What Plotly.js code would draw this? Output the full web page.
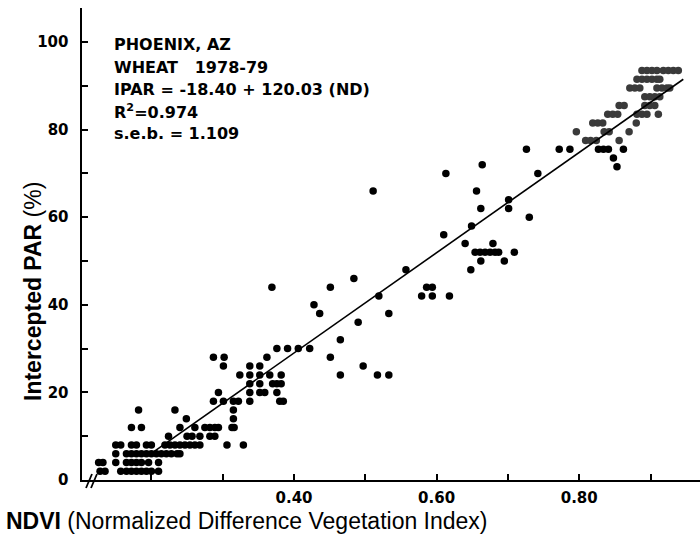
<!DOCTYPE html>
<html><head><meta charset="utf-8">
<script src="https://cdn.plot.ly/plotly-3.0.1.min.js"></script>
<style>html,body{margin:0;padding:0;background:#fff}#chart{width:700px;height:535px}</style>
</head><body><div id="chart"></div>
<script>
// ---- data ----
// low cluster (IPAR 2..30)
const lowNDVI = [
  0.128,0.135,0.157,0.165,0.172,0.179,0.186,0.193,0.200,0.210,
  0.126,0.132,0.150,0.165,0.172,0.179,0.186,0.196,0.210,
  0.150,0.165,0.172,0.179,0.186,0.193,0.200,0.207,0.214,0.221,0.228,0.236,0.240,
  0.150,0.157,0.172,0.179,0.193,0.200,0.219,0.226,0.233,0.240,0.247,0.254,0.261,0.268,0.306,0.329,
  0.224,0.250,0.257,0.268,0.282,0.289,
  0.172,0.186,0.240,0.261,0.275,0.282,0.289,0.294,0.313,0.316,
  0.249,0.315,
  0.182,0.233,0.315,
  0.287,0.301,0.315,0.322,0.338,0.380,0.385,
  0.294,0.338,0.352,0.359,0.376,
  0.338,0.352,0.370,0.376,0.382,
  0.324,0.338,0.352,0.366,0.382,
  0.301,0.338,0.352,
  0.287,0.302,0.362,
  0.376,0.391,0.406,0.422
];
const lowIPAR = [
  2,2,2,2,2,2,2,2,2,2,
  4,4,4,4,4,4,4,4,4,
  6,6,6,6,6,6,6,6,6,6,6,6,6,
  8,8,8,8,8,8,8,8,8,8,8,8,8,8,8,8,
  10,10,10,10,10,10,
  12,12,12,12,12,12,12,12,12,12,
  14,14,
  16,16,16,
  18,18,18,18,18,18,18,
  20,20,20,20,20,
  22,22,22,22,22,
  24,24,24,24,24,
  26,26,26,
  28,28,28,
  30,30,30,30
];
// middle cluster
const midNDVI = [0.465,0.517,0.533, 0.497, 0.451, 0.465, 0.490, 0.436,0.533, 0.428,
  0.519,0.579,0.594,0.618, 0.369,0.451,0.586,0.594, 0.484, 0.557,0.648, 0.662,0.695,
  0.654,0.661,0.668,0.675,0.682,0.687,0.709, 0.640,0.679, 0.610, 0.649, 0.730,
  0.662,0.701, 0.701, 0.656,0.511, 0.613,0.742, 0.664];
const midIPAR = [24,24,24, 26, 28, 32, 36, 38,38, 40,
  42,42,42,42, 44,44,44,44, 46, 48,48, 50,50,
  52,52,52,52,52,52,52, 54,54, 56, 58, 60,
  62,62, 64, 66,66, 70,70, 72];
// upper cluster (black)
const highNDVI = [0.726,0.772,0.787,0.827,0.834,0.841,0.862, 0.848, 0.853];
const highIPAR = [75.5,75.5,75.5,75.5,75.5,75.5,75.5, 73.5, 71.5];
// top cluster (greyer in the scan)
const topNDVI = [0.809,0.816,0.824,0.856,
  0.796,0.835,0.842,0.870,
  0.819,0.826,0.833,0.880,
  0.840,0.847,0.854,0.881,0.888,0.895,0.911,
  0.856,0.863,0.892,0.899,0.906,
  0.892,0.899,0.906,0.913,
  0.871,0.878,0.885,0.909,0.916,0.923,0.927,
  0.881,0.888,0.895,0.902,0.909,0.913,
  0.888,0.895,0.902,0.909,0.918,0.925,0.932,0.939];
const topIPAR = [77.5,77.5,77.5,77.5,
  79.5,79.5,79.5,79.5,
  81.5,81.5,81.5,81.5,
  83.5,83.5,83.5,83.5,83.5,83.5,83.5,
  85.5,85.5,85.5,85.5,85.5,
  87.5,87.5,87.5,87.5,
  89.5,89.5,89.5,89.5,89.5,89.5,89.5,
  91.5,91.5,91.5,91.5,91.5,91.5,
  93.5,93.5,93.5,93.5,93.5,93.5,93.5,93.5];
// regression line end points as drawn
const lineNDVI = [0.200, 0.946];
const lineIPAR = [6.1, 91.5];
// ticks
const xTickVals = [0.4,0.6,0.8];
const xTickText = ['0.40','0.60','0.80'];
const yTickVals = [0,20,40,60,80,100];
const yTickText = ['0','20','40','60','80','100'];
const noteLines = ['PHOENIX, AZ','WHEAT   1978-79','IPAR = -18.40 + 120.03 (ND)','R<sup>2</sup>=0.974','s.e.b. = 1.109'];
const notePix = [44, 67, 89, 112, 133];

const W = 700, H = 535, L = 82, R = 0, T = 8, B = 55;
const plotH = H - T - B, plotW = W - L - R;

const blackX = lowNDVI.concat(midNDVI, highNDVI);
const blackY = lowIPAR.concat(midIPAR, highIPAR);

const traces = [
  {x: blackX, y: blackY, type:'scatter', mode:'markers', marker:{size:7.5, color:'#000'}, hoverinfo:'skip'},
  {x: topNDVI, y: topIPAR, type:'scatter', mode:'markers', marker:{size:7.5, color:'#3a3a3a'}, hoverinfo:'skip'},
  {x: lineNDVI, y: lineIPAR, type:'scatter', mode:'lines', line:{color:'#000', width:1.6}, hoverinfo:'skip'}
];

const noteFont = {family:'DejaVu Sans', size:16, weight:'bold', color:'#000'};
const annotations = noteLines.map((t,i)=>({
  text:t, xref:'paper', yref:'paper', x:(112-L)/plotW, y:(H-B-notePix[i])/plotH,
  xanchor:'left', yanchor:'middle', showarrow:false, font:noteFont
}));
annotations.push({
  text:'<b>NDVI</b> (Normalized Difference Vegetation Index)', xref:'paper', yref:'paper',
  x:(5-L)/plotW, y:(H-B-520.5)/plotH, xanchor:'left', yanchor:'middle', showarrow:false, borderpad:0,
  font:{family:'Liberation Sans, Arial', size:23, color:'#000'}
});
annotations.push({
  text:'<b>Intercepted PAR</b> (%)', xref:'paper', yref:'paper', textangle:-90,
  x:(33-L)/plotW, y:(H-B-292)/plotH, xanchor:'center', yanchor:'middle', showarrow:false,
  font:{family:'Liberation Sans, Arial', size:23, color:'#000'}
});

const shapes = [
  {type:'line', xref:'paper', yref:'paper', x0:(86-L)/plotW, y0:(H-B-488)/plotH, x1:(92-L)/plotW, y1:(H-B-474)/plotH, line:{color:'#000', width:1.8}},
  {type:'line', xref:'paper', yref:'paper', x0:(91-L)/plotW, y0:(H-B-488)/plotH, x1:(97-L)/plotW, y1:(H-B-474)/plotH, line:{color:'#000', width:1.8}}
];

const tickFont = {family:'DejaVu Sans', size:15, weight:'bold', color:'#000'};
const layout = {
  width:W, height:H, margin:{l:L, r:R, t:T, b:B, pad:0},
  paper_bgcolor:'#fff', plot_bgcolor:'#fff', showlegend:false,
  xaxis:{range:[0.4-(294-L)/713, 0.4+(W-294)/713], tickvals:xTickVals, ticktext:xTickText,
    ticks:'inside', ticklen:6, tickwidth:2, tickcolor:'#000', showline:true, linewidth:2, linecolor:'#000',
    minor:{tick0:0, dtick:0.1, ticks:'inside', ticklen:6, tickwidth:2, tickcolor:'#000', showgrid:false},
    showgrid:false, zeroline:false, tickfont:tickFont, ticklabelstandoff:3},
  yaxis:{range:[0, (H-B-T)/4.38], tickvals:yTickVals, ticktext:yTickText,
    ticks:'inside', ticklen:6, tickwidth:2, tickcolor:'#000', showline:true, linewidth:2.5, linecolor:'#000',
    minor:{tick0:0, dtick:10, ticks:'inside', ticklen:6, tickwidth:2, tickcolor:'#000', showgrid:false},
    showgrid:false, zeroline:false, tickfont:tickFont, ticklabelstandoff:8},
  annotations:annotations, shapes:shapes
};
Plotly.newPlot('chart', traces, layout, {staticPlot:true, displayModeBar:false});
</script></body></html>
